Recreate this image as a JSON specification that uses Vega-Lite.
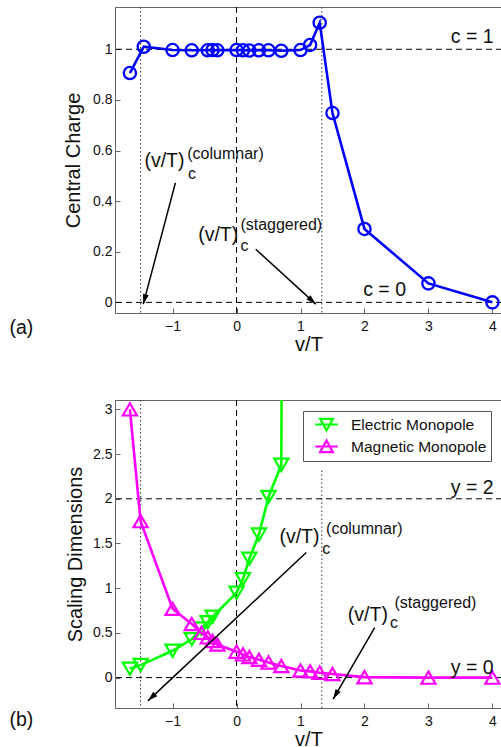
{
  "$schema": "https://vega.github.io/schema/vega-lite/v6.json",
  "padding": {"left": 8, "top": 6, "right": 0, "bottom": 0},
  "background": "white",
  "config": {
    "font": "Liberation Sans",
    "view": {"stroke": "#666", "strokeWidth": 1},
    "axis": {"grid": false, "domainColor": "#666", "tickColor": "#666", "tickSize": -5, "labelFontSize": 14, "labelColor": "#111", "titleFontSize": 20, "titleFontWeight": "normal", "titleColor": "#111", "labelFont": "Liberation Sans", "titleFont": "Liberation Sans"},
    "axisX": {"labelPadding": 11, "titlePadding": 1, "labelFlush": false},
    "axisY": {"labelPadding": 8, "titlePadding": 9},
    "text": {"font": "Liberation Sans"}
  },
  "datasets": {
    "charge": [
      {"v": -1.667, "c": 0.906}, {"v": -1.45, "c": 1.01}, {"v": -1.0, "c": 0.997}, {"v": -0.7, "c": 0.996},
      {"v": -0.45, "c": 0.996}, {"v": -0.375, "c": 0.997}, {"v": -0.3, "c": 0.996}, {"v": 0.0, "c": 0.997},
      {"v": 0.1, "c": 0.996}, {"v": 0.2, "c": 0.995}, {"v": 0.35, "c": 0.996}, {"v": 0.5, "c": 0.996},
      {"v": 0.7, "c": 0.994}, {"v": 1.0, "c": 0.997}, {"v": 1.15, "c": 1.017}, {"v": 1.3, "c": 1.105},
      {"v": 1.5, "c": 0.748}, {"v": 2.0, "c": 0.29}, {"v": 3.0, "c": 0.075}, {"v": 4.0, "c": 0.0}
    ],
    "scaling": [
      {"v": -1.667, "dim": 0.1, "type": "Electric Monopole"},
      {"v": -1.5, "dim": 0.14, "type": "Electric Monopole"},
      {"v": -1.0, "dim": 0.3, "type": "Electric Monopole"},
      {"v": -0.7, "dim": 0.43, "type": "Electric Monopole"},
      {"v": -0.55, "dim": 0.55, "type": "Electric Monopole"},
      {"v": -0.45, "dim": 0.62, "type": "Electric Monopole"},
      {"v": -0.375, "dim": 0.68, "type": "Electric Monopole"},
      {"v": 0.0, "dim": 0.95, "type": "Electric Monopole"},
      {"v": 0.1, "dim": 1.1, "type": "Electric Monopole"},
      {"v": 0.2, "dim": 1.33, "type": "Electric Monopole"},
      {"v": 0.35, "dim": 1.6, "type": "Electric Monopole"},
      {"v": 0.5, "dim": 2.02, "type": "Electric Monopole"},
      {"v": 0.7, "dim": 2.38, "type": "Electric Monopole"},
      {"v": 0.72, "dim": 6.0, "type": "Electric Monopole"},
      {"v": -1.667, "dim": 3.0, "type": "Magnetic Monopole"},
      {"v": -1.5, "dim": 1.75, "type": "Magnetic Monopole"},
      {"v": -1.0, "dim": 0.77, "type": "Magnetic Monopole"},
      {"v": -0.7, "dim": 0.6, "type": "Magnetic Monopole"},
      {"v": -0.55, "dim": 0.5, "type": "Magnetic Monopole"},
      {"v": -0.45, "dim": 0.45, "type": "Magnetic Monopole"},
      {"v": -0.375, "dim": 0.41, "type": "Magnetic Monopole"},
      {"v": -0.3, "dim": 0.37, "type": "Magnetic Monopole"},
      {"v": 0.0, "dim": 0.29, "type": "Magnetic Monopole"},
      {"v": 0.1, "dim": 0.26, "type": "Magnetic Monopole"},
      {"v": 0.2, "dim": 0.23, "type": "Magnetic Monopole"},
      {"v": 0.35, "dim": 0.2, "type": "Magnetic Monopole"},
      {"v": 0.5, "dim": 0.17, "type": "Magnetic Monopole"},
      {"v": 0.7, "dim": 0.13, "type": "Magnetic Monopole"},
      {"v": 1.0, "dim": 0.08, "type": "Magnetic Monopole"},
      {"v": 1.15, "dim": 0.07, "type": "Magnetic Monopole"},
      {"v": 1.3, "dim": 0.055, "type": "Magnetic Monopole"},
      {"v": 1.5, "dim": 0.04, "type": "Magnetic Monopole"},
      {"v": 2.0, "dim": 0.005, "type": "Magnetic Monopole"},
      {"v": 3.0, "dim": 0.0, "type": "Magnetic Monopole"},
      {"v": 4.0, "dim": 0.0, "type": "Magnetic Monopole"}
    ],
    "critA": [{"v": -1.5}, {"v": 1.333}],
    "critB": [{"v": -1.5}],
    "critBpart": [{"v": 1.333, "lo": -0.34, "hi": 2.33}],
    "zeroV": [{"v": 0}],
    "hlinesA": [{"c": 0}, {"c": 1}],
    "hlinesB": [{"d": 0}, {"d": 2}],
    "arrowsA": [
      {"x": -0.956, "y": 0.472, "x2": -1.458, "y2": -0.007},
      {"x": 0.30, "y": 0.21, "x2": 1.24, "y2": -0.007}
    ],
    "arrowsB": [
      {"x": 1.09, "y": 1.40, "x2": -1.385, "y2": -0.26},
      {"x": 2.16, "y": 0.56, "x2": 1.51, "y2": -0.24}
    ],
    "labelsA": [
      {"x": 3.35, "y": 1.025, "text": "c = 1", "role": "main"},
      {"x": 1.98, "y": 0.025, "text": "c = 0", "role": "main"},
      {"x": -1.44, "y": 0.535, "text": "(v/T)", "role": "main"},
      {"x": -0.76, "y": 0.487, "text": "c", "role": "script"},
      {"x": -0.77, "y": 0.566, "text": "(columnar)", "role": "script"},
      {"x": -0.60, "y": 0.242, "text": "(v/T)", "role": "main"},
      {"x": 0.06, "y": 0.203, "text": "c", "role": "script"},
      {"x": 0.06, "y": 0.286, "text": "(staggered)", "role": "script"},
      {"x": -3.55, "y": -0.125, "text": "(a)", "role": "main"}
    ],
    "labelsB": [
      {"x": 3.35, "y": 2.05, "text": "y = 2", "role": "main"},
      {"x": 3.35, "y": 0.04, "text": "y = 0", "role": "main"},
      {"x": 0.67, "y": 1.50, "text": "(v/T)", "role": "main"},
      {"x": 1.34, "y": 1.38, "text": "c", "role": "script"},
      {"x": 1.40, "y": 1.61, "text": "(columnar)", "role": "script"},
      {"x": 1.74, "y": 0.63, "text": "(v/T)", "role": "main"},
      {"x": 2.40, "y": 0.56, "text": "c", "role": "script"},
      {"x": 2.47, "y": 0.78, "text": "(staggered)", "role": "script"},
      {"x": -3.55, "y": -0.54, "text": "(b)", "role": "main"}
    ]
  },
  "spacing": 87,
  "bounds": "flush",
  "resolve": {"scale": {"color": "independent", "shape": "independent"}, "legend": {"color": "independent", "shape": "independent"}},
  "vconcat": [
    {
      "width": 387,
      "height": 306,
      "layer": [
        {
          "data": {"name": "critA"},
          "mark": {"type": "rule", "strokeDash": [1.5, 2.5], "color": "#333", "strokeWidth": 1},
          "encoding": {"x": {"field": "v", "type": "quantitative", "scale": {"domain": [-1.9, 4.15], "nice": false, "zero": false}, "axis": {"values": [-1, 0, 1, 2, 3, 4], "format": "~g"}, "title": "v/T"}}
        },
        {
          "data": {"name": "zeroV"},
          "mark": {"type": "rule", "strokeDash": [6, 4], "color": "#000", "strokeWidth": 1},
          "encoding": {"x": {"field": "v", "type": "quantitative", "scale": {"domain": [-1.9, 4.15], "nice": false, "zero": false}, "axis": {"values": [-1, 0, 1, 2, 3, 4], "format": "~g"}, "title": "v/T"}}
        },
        {
          "data": {"name": "hlinesA"},
          "mark": {"type": "rule", "strokeDash": [6, 4], "color": "#000", "strokeWidth": 1},
          "encoding": {"y": {"field": "c", "type": "quantitative", "scale": {"domain": [-0.042, 1.167], "nice": false, "zero": false}, "axis": {"values": [0, 0.2, 0.4, 0.6, 0.8, 1], "format": "~g"}, "title": "Central Charge"}}
        },
        {
          "data": {"name": "charge"},
          "mark": {"type": "line", "color": "#0000ff", "strokeWidth": 2.6},
          "encoding": {
            "x": {"field": "v", "type": "quantitative", "axis": {"values": [-1, 0, 1, 2, 3, 4], "format": "~g"}, "title": "v/T"},
            "y": {"field": "c", "type": "quantitative", "axis": {"values": [0, 0.2, 0.4, 0.6, 0.8, 1], "format": "~g"}, "title": "Central Charge"}
          }
        },
        {
          "data": {"name": "charge"},
          "mark": {"type": "point", "shape": "circle", "filled": false, "color": "#0000ff", "strokeWidth": 2.3, "size": 150, "opacity": 1},
          "encoding": {
            "x": {"field": "v", "type": "quantitative", "axis": {"values": [-1, 0, 1, 2, 3, 4], "format": "~g"}, "title": "v/T"},
            "y": {"field": "c", "type": "quantitative", "axis": {"values": [0, 0.2, 0.4, 0.6, 0.8, 1], "format": "~g"}, "title": "Central Charge"}
          }
        },
        {
          "data": {"name": "arrowsA"},
          "mark": {"type": "rule", "color": "#000", "strokeWidth": 1.5},
          "encoding": {
            "x": {"field": "x", "type": "quantitative", "axis": {"values": [-1, 0, 1, 2, 3, 4], "format": "~g"}, "title": "v/T"},
            "y": {"field": "y", "type": "quantitative", "axis": {"values": [0, 0.2, 0.4, 0.6, 0.8, 1], "format": "~g"}, "title": "Central Charge"},
            "x2": {"field": "x2"},
            "y2": {"field": "y2"}
          }
        },
        {
          "data": {"name": "arrowsA"},
          "transform": [{"calculate": "atan2((datum.x2 - datum.x) * 64, (datum.y2 - datum.y) * 253.1) * 180 / PI", "as": "ang"}],
          "mark": {"type": "point", "shape": "M0,0L-0.6,2L0.6,2Z", "filled": true, "color": "#000", "size": 100, "opacity": 1},
          "encoding": {
            "x": {"field": "x2", "type": "quantitative", "axis": {"values": [-1, 0, 1, 2, 3, 4], "format": "~g"}, "title": "v/T"},
            "y": {"field": "y2", "type": "quantitative", "axis": {"values": [0, 0.2, 0.4, 0.6, 0.8, 1], "format": "~g"}, "title": "Central Charge"},
            "angle": {"field": "ang", "type": "quantitative", "scale": null}
          }
        },
        {
          "data": {"name": "labelsA"},
          "transform": [{"filter": "datum.role === 'main'"}],
          "mark": {"type": "text", "align": "left", "baseline": "alphabetic", "fontSize": 19.5, "color": "#111"},
          "encoding": {
            "x": {"field": "x", "type": "quantitative", "axis": {"values": [-1, 0, 1, 2, 3, 4], "format": "~g"}, "title": "v/T"},
            "y": {"field": "y", "type": "quantitative", "axis": {"values": [0, 0.2, 0.4, 0.6, 0.8, 1], "format": "~g"}, "title": "Central Charge"},
            "text": {"field": "text"}
          }
        },
        {
          "data": {"name": "labelsA"},
          "transform": [{"filter": "datum.role === 'script'"}],
          "mark": {"type": "text", "align": "left", "baseline": "alphabetic", "fontSize": 16, "color": "#111"},
          "encoding": {
            "x": {"field": "x", "type": "quantitative", "axis": {"values": [-1, 0, 1, 2, 3, 4], "format": "~g"}, "title": "v/T"},
            "y": {"field": "y", "type": "quantitative", "axis": {"values": [0, 0.2, 0.4, 0.6, 0.8, 1], "format": "~g"}, "title": "Central Charge"},
            "text": {"field": "text"}
          }
        }
      ]
    },
    {
      "width": 387,
      "height": 308,
      "layer": [
        {
          "data": {"name": "critB"},
          "mark": {"type": "rule", "strokeDash": [1.5, 2.5], "color": "#333", "strokeWidth": 1},
          "encoding": {"x": {"field": "v", "type": "quantitative", "scale": {"domain": [-1.9, 4.15], "nice": false, "zero": false}, "axis": {"values": [-1, 0, 1, 2, 3, 4], "format": "~g"}, "title": "v/T"}}
        },
        {
          "data": {"name": "critBpart"},
          "mark": {"type": "rule", "strokeDash": [1.5, 2.5], "color": "#333", "strokeWidth": 1},
          "encoding": {
            "x": {"field": "v", "type": "quantitative", "axis": {"values": [-1, 0, 1, 2, 3, 4], "format": "~g"}, "title": "v/T"},
            "y": {"field": "lo", "type": "quantitative", "scale": {"domain": [-0.34, 3.105], "nice": false, "zero": false}, "axis": {"values": [0, 0.5, 1, 1.5, 2, 2.5, 3], "format": "~g", "titlePadding": 7}, "title": "Scaling Dimensions"},
            "y2": {"field": "hi"}
          }
        },
        {
          "data": {"name": "zeroV"},
          "mark": {"type": "rule", "strokeDash": [6, 4], "color": "#000", "strokeWidth": 1},
          "encoding": {"x": {"field": "v", "type": "quantitative", "axis": {"values": [-1, 0, 1, 2, 3, 4], "format": "~g"}, "title": "v/T"}}
        },
        {
          "data": {"name": "hlinesB"},
          "mark": {"type": "rule", "strokeDash": [6, 4], "color": "#000", "strokeWidth": 1},
          "encoding": {"y": {"field": "d", "type": "quantitative", "axis": {"values": [0, 0.5, 1, 1.5, 2, 2.5, 3], "format": "~g", "titlePadding": 7}, "title": "Scaling Dimensions"}}
        },
        {
          "data": {"name": "scaling"},
          "transform": [{"filter": "datum.type === 'Electric Monopole'"}],
          "mark": {"type": "line", "color": "#00ff00", "strokeWidth": 2.6, "clip": true},
          "encoding": {
            "x": {"field": "v", "type": "quantitative", "axis": {"values": [-1, 0, 1, 2, 3, 4], "format": "~g"}, "title": "v/T"},
            "y": {"field": "dim", "type": "quantitative", "axis": {"values": [0, 0.5, 1, 1.5, 2, 2.5, 3], "format": "~g", "titlePadding": 7}, "title": "Scaling Dimensions"}
          }
        },
        {
          "data": {"name": "scaling"},
          "transform": [{"filter": "datum.type === 'Electric Monopole'"}],
          "mark": {"type": "point", "shape": "triangle-down", "filled": false, "color": "#00ff00", "strokeWidth": 2.2, "size": 200, "opacity": 1, "clip": true},
          "encoding": {
            "x": {"field": "v", "type": "quantitative", "axis": {"values": [-1, 0, 1, 2, 3, 4], "format": "~g"}, "title": "v/T"},
            "y": {"field": "dim", "type": "quantitative", "axis": {"values": [0, 0.5, 1, 1.5, 2, 2.5, 3], "format": "~g", "titlePadding": 7}, "title": "Scaling Dimensions"}
          }
        },
        {
          "data": {"name": "scaling"},
          "transform": [{"filter": "datum.type === 'Magnetic Monopole'"}],
          "mark": {"type": "line", "color": "#ff00ff", "strokeWidth": 2.6, "clip": true},
          "encoding": {
            "x": {"field": "v", "type": "quantitative", "axis": {"values": [-1, 0, 1, 2, 3, 4], "format": "~g"}, "title": "v/T"},
            "y": {"field": "dim", "type": "quantitative", "axis": {"values": [0, 0.5, 1, 1.5, 2, 2.5, 3], "format": "~g", "titlePadding": 7}, "title": "Scaling Dimensions"}
          }
        },
        {
          "data": {"name": "scaling"},
          "transform": [{"filter": "datum.type === 'Magnetic Monopole'"}],
          "mark": {"type": "point", "shape": "triangle-up", "filled": false, "color": "#ff00ff", "strokeWidth": 2.2, "size": 200, "opacity": 1, "clip": true},
          "encoding": {
            "x": {"field": "v", "type": "quantitative", "axis": {"values": [-1, 0, 1, 2, 3, 4], "format": "~g"}, "title": "v/T"},
            "y": {"field": "dim", "type": "quantitative", "axis": {"values": [0, 0.5, 1, 1.5, 2, 2.5, 3], "format": "~g", "titlePadding": 7}, "title": "Scaling Dimensions"}
          }
        },
        {
          "data": {"name": "scaling"},
          "mark": {"type": "point", "filled": false, "strokeWidth": 2, "size": 256, "opacity": 0, "clip": true},
          "encoding": {
            "x": {"field": "v", "type": "quantitative", "axis": {"values": [-1, 0, 1, 2, 3, 4], "format": "~g"}, "title": "v/T"},
            "y": {"field": "dim", "type": "quantitative", "axis": {"values": [0, 0.5, 1, 1.5, 2, 2.5, 3], "format": "~g", "titlePadding": 7}, "title": "Scaling Dimensions"},
            "color": {
              "field": "type", "type": "nominal",
              "scale": {"domain": ["Electric Monopole", "Magnetic Monopole"], "range": ["#00ff00", "#ff00ff"]},
              "legend": {
                "title": null, "orient": "top-right", "offset": 11, "padding": 4, "strokeColor": "#555", "fillColor": "white",
                "labelFontSize": 15.5, "labelFont": "Liberation Sans", "labelColor": "#111", "symbolStrokeWidth": 2.2, "symbolSize": 256,
                "symbolOffset": 10, "labelOffset": 15, "rowPadding": 1, "cornerRadius": 0, "symbolOpacity": 1
              }
            },
            "shape": {
              "field": "type", "type": "nominal",
              "scale": {"domain": ["Electric Monopole", "Magnetic Monopole"], "range": ["M-1.4,0H1.4M-0.8,-0.7H0.8L0,0.75Z", "M-1.4,0H1.4M-0.8,0.7H0.8L0,-0.75Z"]},
              "legend": {
                "title": null, "orient": "top-right", "offset": 11, "padding": 4, "strokeColor": "#555", "fillColor": "white",
                "labelFontSize": 15.5, "labelFont": "Liberation Sans", "labelColor": "#111", "symbolStrokeWidth": 2.2, "symbolSize": 256,
                "symbolOffset": 10, "labelOffset": 15, "rowPadding": 1, "cornerRadius": 0, "symbolOpacity": 1
              }
            }
          }
        },
        {
          "data": {"name": "arrowsB"},
          "mark": {"type": "rule", "color": "#000", "strokeWidth": 1.5},
          "encoding": {
            "x": {"field": "x", "type": "quantitative", "axis": {"values": [-1, 0, 1, 2, 3, 4], "format": "~g"}, "title": "v/T"},
            "y": {"field": "y", "type": "quantitative", "axis": {"values": [0, 0.5, 1, 1.5, 2, 2.5, 3], "format": "~g", "titlePadding": 7}, "title": "Scaling Dimensions"},
            "x2": {"field": "x2"},
            "y2": {"field": "y2"}
          }
        },
        {
          "data": {"name": "arrowsB"},
          "transform": [{"calculate": "atan2((datum.x2 - datum.x) * 64, (datum.y2 - datum.y) * 89.4) * 180 / PI", "as": "ang"}],
          "mark": {"type": "point", "shape": "M0,0L-0.6,2L0.6,2Z", "filled": true, "color": "#000", "size": 100, "opacity": 1},
          "encoding": {
            "x": {"field": "x2", "type": "quantitative", "axis": {"values": [-1, 0, 1, 2, 3, 4], "format": "~g"}, "title": "v/T"},
            "y": {"field": "y2", "type": "quantitative", "axis": {"values": [0, 0.5, 1, 1.5, 2, 2.5, 3], "format": "~g", "titlePadding": 7}, "title": "Scaling Dimensions"},
            "angle": {"field": "ang", "type": "quantitative", "scale": null}
          }
        },
        {
          "data": {"name": "labelsB"},
          "transform": [{"filter": "datum.role === 'main'"}],
          "mark": {"type": "text", "align": "left", "baseline": "alphabetic", "fontSize": 19.5, "color": "#111"},
          "encoding": {
            "x": {"field": "x", "type": "quantitative", "axis": {"values": [-1, 0, 1, 2, 3, 4], "format": "~g"}, "title": "v/T"},
            "y": {"field": "y", "type": "quantitative", "axis": {"values": [0, 0.5, 1, 1.5, 2, 2.5, 3], "format": "~g", "titlePadding": 7}, "title": "Scaling Dimensions"},
            "text": {"field": "text"}
          }
        },
        {
          "data": {"name": "labelsB"},
          "transform": [{"filter": "datum.role === 'script'"}],
          "mark": {"type": "text", "align": "left", "baseline": "alphabetic", "fontSize": 16, "color": "#111"},
          "encoding": {
            "x": {"field": "x", "type": "quantitative", "axis": {"values": [-1, 0, 1, 2, 3, 4], "format": "~g"}, "title": "v/T"},
            "y": {"field": "y", "type": "quantitative", "axis": {"values": [0, 0.5, 1, 1.5, 2, 2.5, 3], "format": "~g", "titlePadding": 7}, "title": "Scaling Dimensions"},
            "text": {"field": "text"}
          }
        }
      ]
    }
  ]
}
